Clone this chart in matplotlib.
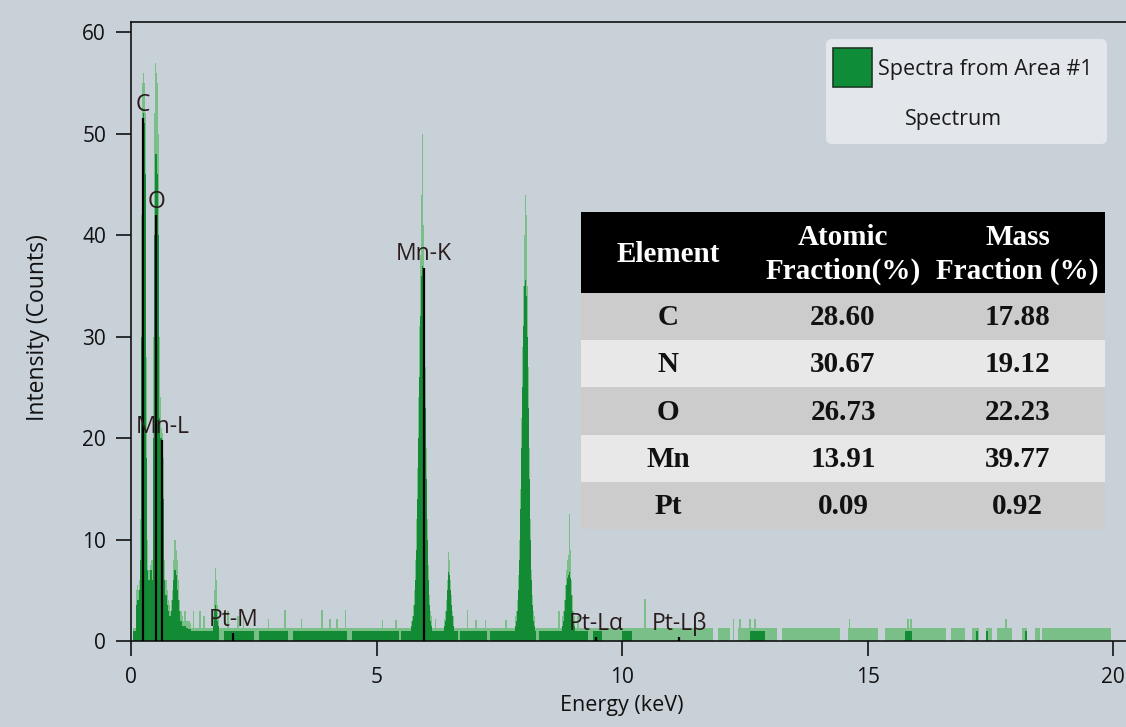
import numpy as np
import matplotlib.pyplot as plt
from matplotlib.patches import FancyBboxPatch, Rectangle

plt.rcParams['font.family'] = ['Open Sans', 'DejaVu Sans']

W, H = 1126, 727
bg = '#c9d1d8'
dark_green = '#138b34'
light_green = '#7abf88'

ch = 0.02  # keV per channel

# --- spectrum -----------------------------------------------------------
# low energy region (C, O, Mn-L, Cu-L), channels from 0.10 keV
low_start = 0.10
low_dark = [3.5, 4, 4, 5, 8, 30, 50, 52, 51, 46, 18, 7, 6, 6, 7, 7, 6, 20, 40, 48,
            48, 46, 40, 30, 22, 20, 20, 19, 14, 6, 4.5, 4.5, 3.5, 3, 2.5, 2.5, 3, 4, 6, 7,
            7, 6.5, 5, 4, 3, 2, 2, 1.5, 1.5, 1.5, 1.5, 1.3, 1.3, 1.2, 1.2, 1.2]
low_light = [5, 5.5, 5, 6, 12, 42, 55, 56, 55, 52, 28, 10, 7, 7, 7.5, 8, 8, 30, 52, 57,
             56, 55, 50, 42, 30, 24, 21, 20.5, 18, 8, 6, 6, 5, 4, 3.5, 3, 4, 5, 8, 10,
             10, 9, 8, 6, 4, 3, 3, 2.5, 2, 2.5, 3, 2, 2, 2, 2, 1.8]

si_start = 1.66
si_dark = [1.5, 2, 3, 3.5, 3, 2, 1.5]
si_light = [2.5, 3, 5, 7.2, 6, 3.5, 2.5]

mnk_start = 5.70
mnk_dark = [1.5, 2, 2.5, 3.5, 6, 9, 14, 20, 26, 32, 36, 37, 35, 30, 23, 16, 10, 6, 3.5, 2, 1.5]
mnk_light = [2, 2.5, 3.5, 5, 8, 12, 17, 24, 31, 38, 44, 50, 41, 35, 27, 19, 12, 7.5, 4.5, 3, 2.5]

mnkb_start = 6.38
mnkb_dark = [1.5, 2, 3, 5, 6.8, 6.5, 5, 3.5, 2.5, 1.5]
mnkb_light = [2.2, 3, 4, 6, 8.8, 8, 6, 4.5, 3, 2.5]

cuka_start = 7.82
cuka_dark = [1.5, 2, 3, 5, 8, 13, 19, 25, 31, 35, 35.6, 34, 30, 23, 16, 10, 6, 3.5, 2, 1.5]
cuka_light = [2.5, 3, 4, 6.5, 10, 15, 22, 29, 35, 40, 44, 42, 35, 27, 19, 12, 7, 4.5, 3, 2.5]

cukb_start = 8.78
cukb_dark = [1.5, 2, 3, 4, 5.5, 6.2, 6.5, 6.8, 6.2, 4.5, 3, 2, 1.5]
cukb_light = [2.5, 3, 4, 5.5, 7, 8, 8.5, 12.5, 9, 6, 4.5, 3, 2.5]

# flat background, solid part and lighter part (segments in keV)
dark_base_start = [0.05, 1.90, 2.60, 3.30, 4.50, 5.50, 6.70, 7.30, 8.30, 9.40, 10.0, 12.6, 15.75, 17.2, 17.4, 18.2]
dark_base_end = [1.80, 2.50, 3.20, 4.40, 5.45, 6.65, 7.25, 8.25, 9.30, 9.60, 10.2, 12.9, 15.90, 17.25, 17.45, 18.25]
dark_base_level = 1.0
light_base_start = [0.05, 11.96, 12.35, 13.25, 14.60, 15.35, 16.70, 17.12, 17.40, 17.63, 18.14, 18.40, 18.55]
light_base_end = [11.86, 12.20, 13.15, 14.43, 15.22, 16.60, 16.98, 17.27, 17.53, 17.94, 18.24, 18.50, 19.95]
light_base_level = 1.3

# isolated noise spikes
spike_keV = [1.10, 1.27, 1.41, 1.49, 1.98, 2.18, 2.29, 2.80, 3.14, 3.47, 3.89, 4.05, 4.19, 4.37,
             5.12, 5.39, 6.20, 6.85, 7.02, 7.22, 7.63, 8.71, 9.10, 10.47, 12.27, 12.40, 12.60,
             12.70, 14.63, 15.82, 15.88, 17.82]
spike_counts = [3.0, 3.0, 3.0, 2.5, 3.0, 2.5, 3.0, 2.2, 3.1, 2.2, 3.1, 2.2, 2.2, 3.1,
                2.1, 2.1, 2.2, 3.1, 2.1, 2.1, 2.1, 3.0, 2.5, 4.1, 2.2, 2.2, 2.2,
                2.2, 2.2, 2.2, 2.2, 2.2]

# element line markers
line_names = ['C', 'O', 'Mn-L', 'Mn-K', 'Pt-M', 'Pt-Lα', 'Pt-Lβ']
line_keV = [0.245, 0.51, 0.64, 5.96, 2.08, 9.47, 11.16]
line_top = [51.5, 42.0, 19.8, 36.8, 0.8, 0.4, 0.4]

# quantification table
elements = ['C', 'N', 'O', 'Mn', 'Pt']
atomic_frac = ['28.60', '30.67', '26.73', '13.91', '0.09']
mass_frac = ['17.88', '19.12', '22.23', '39.77', '0.92']
col_labels = ['Element', 'Atomic\nFraction(%)', 'Mass\nFraction (%)']

regions = [(low_start, low_dark, low_light), (si_start, si_dark, si_light),
           (mnk_start, mnk_dark, mnk_light), (mnkb_start, mnkb_dark, mnkb_light),
           (cuka_start, cuka_dark, cuka_light), (cukb_start, cukb_dark, cukb_light)]

fig = plt.figure(figsize=(W / 100, H / 100), dpi=100, facecolor=bg)
ax = fig.add_axes([131 / W, (H - 641) / H, (W - 131) / W, (641 - 22) / H])
ax.set_facecolor(bg)

# light layer
for s, e in zip(light_base_start, light_base_end):
    ax.bar(s, light_base_level, width=e - s, align='edge', color=light_green, linewidth=0)
ax.bar(spike_keV, spike_counts, width=0.035, color=light_green, linewidth=0)
for start, dark, light in regions:
    edges = start + ch * np.arange(len(light) + 1)
    ax.stairs(light, edges, fill=True, color=light_green, linewidth=0)

# solid layer
for s, e in zip(dark_base_start, dark_base_end):
    ax.bar(s, dark_base_level, width=e - s, align='edge', color=dark_green, linewidth=0)
for start, dark, light in regions:
    edges = start + ch * np.arange(len(dark) + 1)
    ax.stairs(dark, edges, fill=True, color=dark_green, linewidth=0)

ax.vlines(line_keV, 0, line_top, colors='black', linewidth=1.6, zorder=5)
for name, e, top in zip(line_names, line_keV, line_top):
    ax.annotate(name, (e, top), xytext=(0, 9.5), textcoords='offset points',
                ha='center', va='center', fontsize=16.5, color='#2a1c1c', zorder=6)

ax.set_xlim(0, 20.26)
ax.set_ylim(0, 61.0)
ax.set_xticks([0, 5, 10, 15, 20])
ax.set_yticks([0, 10, 20, 30, 40, 50, 60])
ax.spines['right'].set_visible(False)
for sp in ['left', 'bottom', 'top']:
    ax.spines[sp].set_linewidth(1.2)
    ax.spines[sp].set_color('#111111')
ax.tick_params(axis='both', direction='out', length=11, width=1.2, labelsize=15,
               colors='#111111')
ax.tick_params(axis='y', pad=7)
ax.tick_params(axis='x', pad=8)

fig.text(622 / W, 1 - 705 / H, 'Energy (keV)', ha='center', va='center', fontsize=15.5, color='#111111')
fig.text(38 / W, 1 - 328 / H, 'Intensity (Counts)', ha='center', va='center', rotation=90,
         fontsize=16.5, color='#111111')

# legend box
lax = fig.add_axes([825 / W, 1 - 145 / H, 283 / W, 107 / H])
lax.set_xlim(0, 283)
lax.set_ylim(107, 0)
lax.axis('off')
lax.add_patch(FancyBboxPatch((1, 1), 281, 105, boxstyle='round,pad=0,rounding_size=6',
                             facecolor='#e3e7eb', edgecolor='none'))
lax.add_patch(Rectangle((8, 10), 39, 39, facecolor='#0f8c37', edgecolor='#1b3b22', linewidth=1.2))
lax.text(53, 32, 'Spectra from Area #1', ha='left', va='center', fontsize=15.5, color='#1a1a1a')
lax.text(129, 82, 'Spectrum', ha='center', va='center', fontsize=15.5, color='#1a1a1a')

# quantification table
tw, th = 524, 317
head_h = 81
row_h = (th - head_h) / len(elements)
tax = fig.add_axes([581 / W, 1 - 529 / H, tw / W, th / H])
tax.set_xlim(0, tw)
tax.set_ylim(th, 0)
tax.axis('off')
tax.add_patch(Rectangle((0, 0), tw, head_h, facecolor='black', edgecolor='none'))
col_c = [tw / 6 * (2 * j + 1) for j in range(3)]
tfont = dict(family='Liberation Serif', weight='bold', fontsize=21)
for j, lab in enumerate(col_labels):
    tax.text(col_c[j], head_h / 2 + 2, lab, ha='center', va='center', color='white',
             linespacing=1.3, **tfont)
for i, (el, af, mf) in enumerate(zip(elements, atomic_frac, mass_frac)):
    y0 = head_h + i * row_h
    tax.add_patch(Rectangle((0, y0), tw, row_h, facecolor='#cccccc' if i % 2 == 0 else '#e8e8e8',
                            edgecolor='none'))
    for j, txt in enumerate([el, af, mf]):
        tax.text(col_c[j], y0 + row_h / 2 + 1, txt, ha='center', va='center', color='#111111', **tfont)

fig.savefig('out.png', dpi=100, facecolor=bg)
